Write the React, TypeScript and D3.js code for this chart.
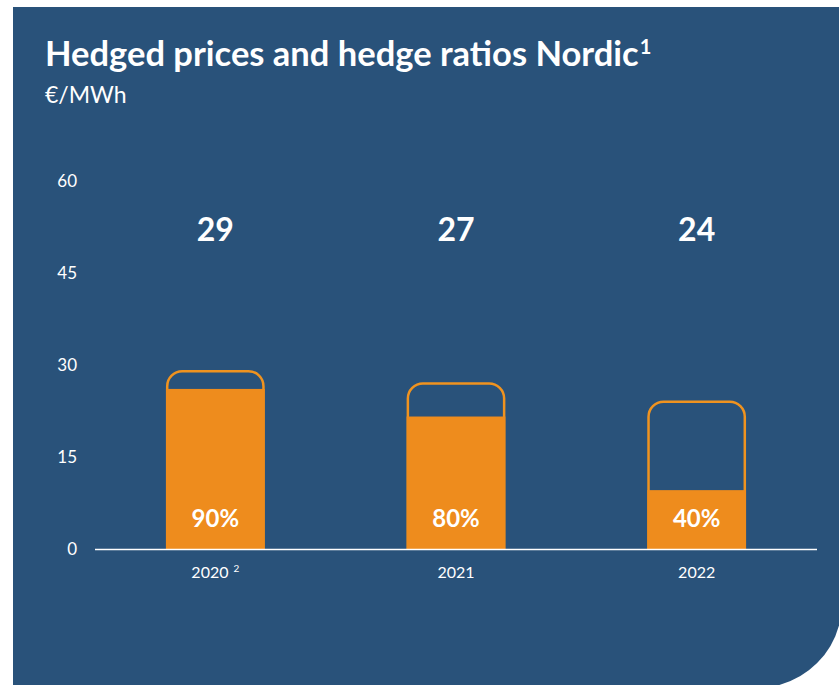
import React, { useRef, useEffect } from "react";
import * as d3 from "d3";

// values
const years = ["2020", "2021", "2022"];
const yearNotes = ["2", "", ""];
const hedgedPrices = [29, 27, 24];
const hedgeRatios = [0.9, 0.8, 0.4];
const yTicks = [0, 15, 30, 45, 60];

const BLUE = "#29527a";
const ORANGE = "#ee8c1d";
const ORANGE_LINE = "#f0931f";
const FONT = "Lato, 'Open Sans', sans-serif";

const App: React.FC = () => {
  const svgRef = useRef<SVGSVGElement | null>(null);
  const width = 839;
  const height = 685;

  useEffect(() => {
    if (!svgRef.current) return;
    const svg = d3.select(svgRef.current);
    svg.selectAll("*").remove();

    svg.attr("width", width).attr("height", height).style("font-family", FONT);

    // panel with the rounded bottom-right corner
    svg
      .append("path")
      .attr("d", "M13,7 H839 V625.4 A85,85 0 0 1 779.4,685 H13 Z")
      .attr("fill", BLUE);

    // title
    const title = svg
      .append("text")
      .attr("x", 45)
      .attr("y", 66)
      .attr("fill", "white")
      .attr("font-weight", "bold")
      .attr("font-size", 34.5);
    title.append("tspan").text("Hedged prices and hedge ratios Nordic");
    title.append("tspan").attr("dx", 1).attr("dy", -12).attr("font-size", 20).text("1");

    svg
      .append("text")
      .attr("x", 45)
      .attr("y", 103)
      .attr("fill", "white")
      .attr("font-size", 23)
      .text("€/MWh");

    const x = d3
      .scaleBand<string>()
      .domain(years)
      .range([95, 817])
      .paddingInner(0.6)
      .paddingOuter(0.3);

    const y = d3.scaleLinear().domain([0, 60]).range([549, 181]);

    // y tick labels (no axis line)
    svg
      .append("g")
      .selectAll("text")
      .data(yTicks)
      .join("text")
      .attr("x", 77)
      .attr("y", (d) => y(d) + 6)
      .attr("text-anchor", "end")
      .attr("fill", "white")
      .attr("font-size", 17)
      .text((d) => d);

    const data = years.map((yr, i) => ({
      year: yr,
      note: yearNotes[i],
      price: hedgedPrices[i],
      ratio: hedgeRatios[i],
    }));

    const bw = x.bandwidth();
    const r = 15;

    const bars = svg
      .append("g")
      .selectAll("g")
      .data(data)
      .join("g")
      .attr("transform", (d) => `translate(${x(d.year)},0)`);

    // outline: hedged price, rounded top
    bars
      .append("path")
      .attr("d", (d) => {
        const top = y(d.price);
        const bot = y(0);
        return `M0,${bot} V${top + r} A${r},${r} 0 0 1 ${r},${top} H${bw - r} A${r},${r} 0 0 1 ${bw},${top + r} V${bot}`;
      })
      .attr("fill", "none")
      .attr("stroke", ORANGE_LINE)
      .attr("stroke-width", 2.5);

    // filled part: hedged share
    bars
      .append("rect")
      .attr("x", -1.25)
      .attr("width", bw + 2.5)
      .attr("y", (d) => y(d.price * d.ratio))
      .attr("height", (d) => y(0) - y(d.price * d.ratio))
      .attr("fill", ORANGE);

    bars
      .append("text")
      .attr("x", bw / 2)
      .attr("y", 527)
      .attr("text-anchor", "middle")
      .attr("fill", "white")
      .attr("font-weight", "bold")
      .attr("font-size", 24)
      .text((d) => `${Math.round(d.ratio * 100)}%`);

    bars
      .append("text")
      .attr("x", bw / 2)
      .attr("y", 241)
      .attr("text-anchor", "middle")
      .attr("fill", "white")
      .attr("font-weight", "bold")
      .attr("font-size", 32)
      .text((d) => d.price);

    // year labels
    const yl = bars
      .append("text")
      .attr("x", bw / 2)
      .attr("y", 578)
      .attr("text-anchor", "middle")
      .attr("fill", "white")
      .attr("font-size", 16);
    yl.append("tspan").text((d) => d.year);
    yl.filter((d) => d.note !== "")
      .append("tspan")
      .attr("dx", 5)
      .attr("dy", -6)
      .attr("font-size", 10)
      .text((d) => d.note);

    // baseline
    svg
      .append("line")
      .attr("x1", 95)
      .attr("x2", 817)
      .attr("y1", y(0) + 0.5)
      .attr("y2", y(0) + 0.5)
      .attr("stroke", "white")
      .attr("stroke-width", 1.5);
  }, []);

  return (
    <svg
      ref={svgRef}
      style={{ position: "absolute", left: 0, top: 0, display: "block" }}
    ></svg>
  );
};

export default App;
